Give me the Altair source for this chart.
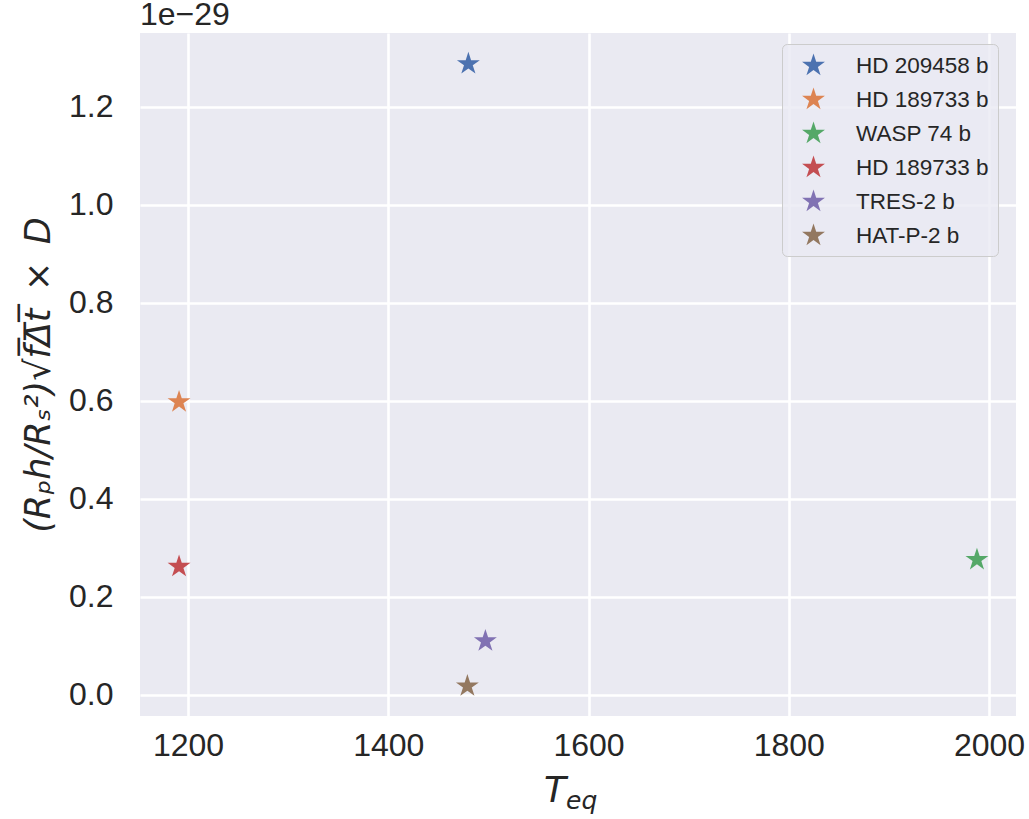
import altair as alt

names = ["HD 209458 b", "HD 189733 b", "WASP 74 b", "HD 189733 b\u00a0", "TRES-2 b", "HAT-P-2 b"]
teq = [1480, 1191, 1988, 1191, 1497, 1479]
yval = [1.288, 0.598, 0.276, 0.262, 0.110, 0.018]   # in units of 1e-29
colors = ["#4c72b0", "#dd8452", "#55a868", "#c44e52", "#8172b3", "#937860"]

x_ticks = [1200, 1400, 1600, 1800, 2000]
y_ticks = [0.0, 0.2, 0.4, 0.6, 0.8, 1.0, 1.2]

rows = [{"planet": n, "teq": t, "val": v} for n, t, v in zip(names, teq, yval)]
data = alt.Data(values=rows)

# five-pointed star (matplotlib '*' marker) as a Vega custom symbol path
STAR = ("M0,-1L0.2245,-0.309L0.9511,-0.309L0.3633,0.118L0.5878,0.809L0,0.382"
        "L-0.5878,0.809L-0.3633,0.118L-0.9511,-0.309L-0.2245,-0.309Z")

W, H = 876, 683

points = alt.Chart(data).mark_point(filled=True, size=580, opacity=1).encode(
    x=alt.X("teq:Q", scale=alt.Scale(domain=[1152, 2027], nice=False, zero=False),
            axis=alt.Axis(values=x_ticks, title="", format="d", labelPadding=14,
                          labelFontSize=32, labelFont="Liberation Sans", labelColor="#262626",
                          grid=True, gridColor="white", gridWidth=2.6, ticks=False, domain=False)),
    y=alt.Y("val:Q", scale=alt.Scale(domain=[-0.043, 1.351], nice=False, zero=False),
            axis=alt.Axis(values=y_ticks, format=".1f", labelPadding=27,
                          labelFontSize=32, labelFont="Liberation Sans", labelColor="#262626",
                          grid=True, gridColor="white", gridWidth=2.6, ticks=False, domain=False,
                          title="(Rₚh/Rₛ²)√f̅Δ̅t̅\u2002×\u2002D", titleFont="DejaVu Sans",
                          titleFontStyle="italic", titleFontWeight="normal", titleFontSize=35,
                          titleColor="#262626", titlePadding=12)),
    color=alt.Color("planet:N", scale=alt.Scale(domain=names, range=colors),
                    legend=alt.Legend(title=None, orient="none", legendX=642, legendY=11,
                                      symbolType=STAR, symbolSize=580, symbolStrokeWidth=0,
                                      labelFontSize=22.5, labelFont="Liberation Sans",
                                      labelColor="#262626", labelOffset=30, rowPadding=10,
                                      padding=9, symbolOffset=10,
                                      fillColor="rgba(234,234,242,0.8)", strokeColor="#cccccc",
                                      cornerRadius=5)),
    shape=alt.value(STAR),
)

t_big = alt.Chart(alt.Data(values=[{"t": "T"}])).mark_text(
    font="DejaVu Sans", fontStyle="italic", fontSize=36, color="#262626",
    align="center", baseline="alphabetic"
).encode(text="t:N", x=alt.value(415), y=alt.value(769))

t_sub = alt.Chart(alt.Data(values=[{"t": "eq"}])).mark_text(
    font="DejaVu Sans", fontStyle="italic", fontSize=25, color="#262626",
    align="left", baseline="alphabetic"
).encode(text="t:N", x=alt.value(426), y=alt.value(776))

chart = alt.layer(points, t_big, t_sub).properties(
    width=W, height=H,
    title=alt.TitleParams("1e−29", anchor="start", frame="group", fontSize=32,
                          font="Liberation Sans", fontWeight="normal", color="#262626", offset=1),
    autosize=alt.AutoSizeParams(type="none"),
    padding={"left": 140, "top": 33, "right": 13, "bottom": 103},
    background="white",
).configure_view(fill="#eaeaf2", stroke=None)

chart.save("out.html", embed_options={"renderer": "svg", "actions": False})
